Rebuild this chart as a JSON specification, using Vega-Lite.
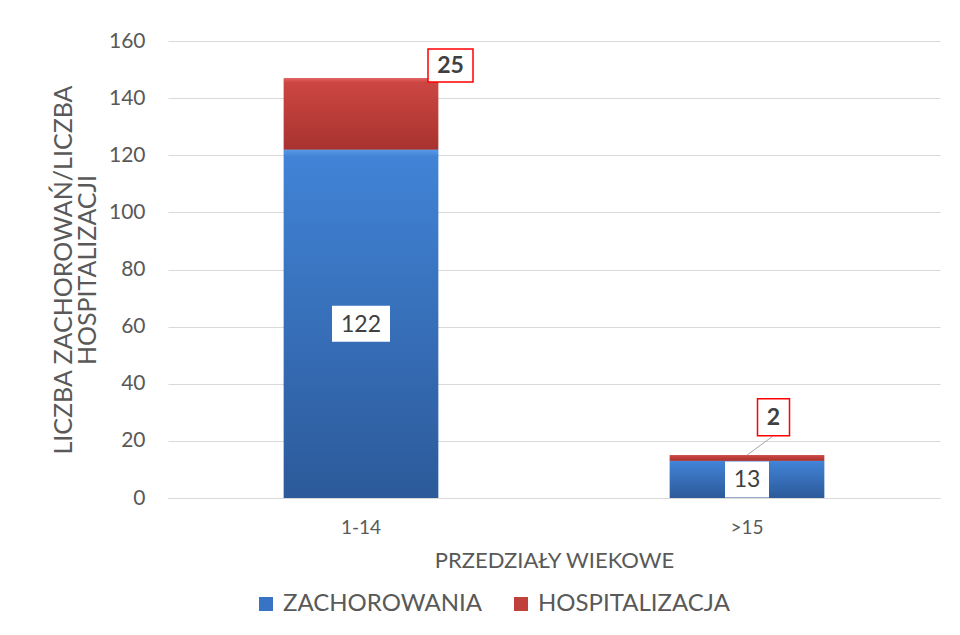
{
  "$schema": "https://vega.github.io/schema/vega-lite/v6.json",
  "width": 772,
  "height": 457,
  "autosize": {"type": "none"},
  "padding": {"left": 168, "top": 41, "right": 20, "bottom": 137},
  "background": "white",
  "config": {"view": {"stroke": null}, "font": "Lato"},
  "data": {
    "values": [
      {"age": "1-14", "series": "ZACHOROWANIA", "value": 122},
      {"age": "1-14", "series": "HOSPITALIZACJA", "value": 25},
      {"age": ">15", "series": "ZACHOROWANIA", "value": 13},
      {"age": ">15", "series": "HOSPITALIZACJA", "value": 2}
    ]
  },
  "transform": [
    {"stack": "value", "groupby": ["age"], "sort": [{"field": "series", "order": "descending"}], "as": ["v0", "v1"]}
  ],
  "encoding": {
    "x": {
      "field": "age",
      "type": "nominal",
      "sort": ["1-14", ">15"],
      "scale": {"paddingInner": 0.6, "paddingOuter": 0.3},
      "axis": {
        "title": "PRZEDZIAŁY WIEKOWE",
        "labelAngle": 0,
        "labelFont": "Lato",
        "labelFontSize": 19,
        "labelColor": "#595959",
        "labelPadding": 20,
        "ticks": false,
        "domainColor": "#d9d9d9",
        "domainWidth": 1,
        "titleFont": "Lato",
        "titleFontSize": 22,
        "titleFontWeight": "normal",
        "titleColor": "#595959",
        "titlePadding": 13
      }
    }
  },
  "layer": [
    {
      "mark": {"type": "bar"},
      "encoding": {
        "y": {
          "field": "v1",
          "type": "quantitative",
          "scale": {"domain": [0, 160]},
          "axis": {
            "values": [0, 20, 40, 60, 80, 100, 120, 140, 160],
            "grid": true,
            "gridColor": "#d9d9d9",
            "domain": false,
            "ticks": false,
            "labelPadding": 23,
            "labelFont": "Lato",
            "labelFontSize": 21,
            "labelColor": "#595959",
            "title": ["LICZBA ZACHOROWAŃ/LICZBA", "HOSPITALIZACJI"],
            "titleFont": "Lato",
            "titleFontSize": 25,
            "titleFontWeight": "normal",
            "titleColor": "#595959",
            "titlePadding": 8,
            "titleLineHeight": 24
          }
        },
        "y2": {"field": "v0"},
        "color": {
          "field": "series",
          "type": "nominal",
          "scale": {"domain": ["ZACHOROWANIA", "HOSPITALIZACJA"], "range": ["#3873c4", "#c0403c"]},
          "legend": {
            "orient": "none",
            "legendX": 86,
            "legendY": 551,
            "direction": "horizontal",
            "title": null,
            "labelFont": "Lato",
            "labelFontSize": 24,
            "labelColor": "#595959",
            "labelLimit": 0,
            "symbolType": "square",
            "symbolSize": 196,
            "symbolStrokeWidth": 0,
            "columnPadding": 26,
            "labelOffset": 5
          }
        }
      }
    },
    {
      "transform": [{"filter": "datum.series === 'ZACHOROWANIA'"}],
      "mark": {
        "type": "bar",
        "color": {"gradient": "linear", "x1": 0, "y1": 0, "x2": 0, "y2": 1,
          "stops": [{"offset": 0, "color": "#5a9be6"}, {"offset": 0.02, "color": "#4183d6"}, {"offset": 1, "color": "#2c5a9a"}]}
      },
      "encoding": {
        "y": {"field": "v1", "type": "quantitative", "scale": {"domain": [0, 160]}, "axis": null},
        "y2": {"field": "v0"}
      }
    },
    {
      "transform": [{"filter": "datum.series === 'HOSPITALIZACJA'"}],
      "mark": {
        "type": "bar",
        "color": {"gradient": "linear", "x1": 0, "y1": 0, "x2": 0, "y2": 1,
          "stops": [{"offset": 0, "color": "#e06460"}, {"offset": 0.06, "color": "#cc4642"}, {"offset": 1, "color": "#a8322f"}]}
      },
      "encoding": {
        "y": {"field": "v1", "type": "quantitative", "scale": {"domain": [0, 160]}, "axis": null},
        "y2": {"field": "v0"}
      }
    },
    {
      "transform": [{"filter": "datum.series === 'ZACHOROWANIA' && datum.age === '1-14'"}],
      "mark": {"type": "point", "shape": "M-1,-0.62H1V0.62H-1Z", "size": 3364, "filled": true, "fill": "white", "opacity": 1, "strokeWidth": 0},
      "encoding": {
        "y": {"field": "value", "type": "quantitative", "scale": {"domain": [0, 320]}, "axis": null}
      }
    },
    {
      "transform": [{"filter": "datum.series === 'ZACHOROWANIA' && datum.age === '>15'"}],
      "mark": {"type": "point", "shape": "M-1,-0.818H1V0.818H-1Z", "size": 1936, "filled": true, "fill": "white", "opacity": 1, "strokeWidth": 0},
      "encoding": {
        "y": {"field": "value", "type": "quantitative", "scale": {"domain": [0, 320]}, "axis": null}
      }
    },
    {
      "transform": [{"filter": "datum.series === 'ZACHOROWANIA'"}],
      "mark": {"type": "text", "font": "Lato", "fontSize": 23, "color": "#404040", "baseline": "middle", "align": "center", "dy": 1},
      "encoding": {
        "y": {"field": "value", "type": "quantitative", "scale": {"domain": [0, 320]}, "axis": null},
        "text": {"field": "value", "type": "quantitative"}
      }
    },
    {
      "transform": [{"filter": "datum.series === 'HOSPITALIZACJA' && datum.age === '1-14'"}],
      "mark": {"type": "point", "shape": "M0.67,-0.291H1.12V0.039H0.67Z", "size": 40000, "filled": true, "fill": "white", "stroke": "#ff0000", "strokeWidth": 1.5, "opacity": 1},
      "encoding": {
        "y": {"field": "v1", "type": "quantitative", "scale": {"domain": [0, 160]}, "axis": null}
      }
    },
    {
      "transform": [{"filter": "datum.series === 'HOSPITALIZACJA' && datum.age === '1-14'"}],
      "mark": {"type": "text", "font": "Lato", "fontSize": 23, "fontWeight": "bold", "color": "#404040", "baseline": "middle", "align": "center", "dx": 89.5, "dy": -12},
      "encoding": {
        "y": {"field": "v1", "type": "quantitative", "scale": {"domain": [0, 160]}, "axis": null},
        "text": {"field": "value", "type": "quantitative"}
      }
    },
    {
      "transform": [{"filter": "datum.series === 'HOSPITALIZACJA' && datum.age === '>15'"}],
      "mark": {"type": "point", "shape": "M0.002,-0.002L0.252,-0.185", "size": 40000, "filled": false, "stroke": "#a6a6a6", "strokeWidth": 1, "opacity": 1},
      "encoding": {
        "y": {"field": "v1", "type": "quantitative", "scale": {"domain": [0, 160]}, "axis": null}
      }
    },
    {
      "transform": [{"filter": "datum.series === 'HOSPITALIZACJA' && datum.age === '>15'"}],
      "mark": {"type": "point", "shape": "M0.105,-0.565H0.425V-0.195H0.105Z", "size": 40000, "filled": true, "fill": "white", "stroke": "#ff0000", "strokeWidth": 1.5, "opacity": 1},
      "encoding": {
        "y": {"field": "v1", "type": "quantitative", "scale": {"domain": [0, 160]}, "axis": null}
      }
    },
    {
      "transform": [{"filter": "datum.series === 'HOSPITALIZACJA' && datum.age === '>15'"}],
      "mark": {"type": "text", "font": "Lato", "fontSize": 23, "fontWeight": "bold", "color": "#404040", "baseline": "middle", "align": "center", "dx": 26.5, "dy": -37},
      "encoding": {
        "y": {"field": "v1", "type": "quantitative", "scale": {"domain": [0, 160]}, "axis": null},
        "text": {"field": "value", "type": "quantitative"}
      }
    }
  ],
  "resolve": {"scale": {"y": "independent"}}
}
